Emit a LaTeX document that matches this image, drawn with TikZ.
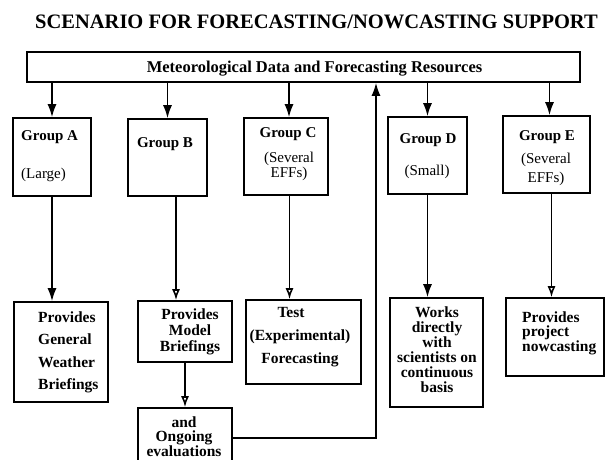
\documentclass[tikz,border=0pt]{standalone}
\usepackage{fontspec}
\setmainfont{Liberation Serif}
\usepackage{tikz}
\usetikzlibrary{arrows.meta}

\begin{document}
\begin{tikzpicture}[
  x=1pt, y=-1pt,
  box/.style={draw,line width=1.6pt,inner sep=0pt},
  lbl/.style={inner sep=0pt,font=\fontsize{15}{15}\selectfont\bfseries},
  sub/.style={inner sep=0pt,align=center,font=\fontsize{15}{15}\selectfont},
  txt/.style={inner sep=0pt,font=\fontsize{15.5}{16}\selectfont\bfseries},
  arr/.style={-{Latex[length=13pt,width=9pt]},line width=1.6pt},
  oarr/.style={-{Latex[open,length=11pt,width=8pt]},line width=1.6pt}
]
  \useasboundingbox (0,0) rectangle (605,459);

  \node[inner sep=0pt,anchor=base,font=\fontsize{20.5}{22}\selectfont\bfseries] (title) at (316.5,28.5)
    {SCENARIO FOR FORECASTING/NOWCASTING SUPPORT};

  \node[box,minimum width=553pt,minimum height=30pt] (res) at (303.5,67) {};
  \node[inner sep=0pt,anchor=base,font=\fontsize{16.5}{18}\selectfont\bfseries] (tRes) at (314.5,72)
    {Meteorological Data and Forecasting Resources};

  % groups
  \node[box,minimum width=78pt,minimum height=78pt] (gA) at (52,157) {};
  \node[box,minimum width=79pt,minimum height=77pt] (gB) at (167.5,157.5) {};
  \node[box,minimum width=84pt,minimum height=77pt] (gC) at (286,156.5) {};
  \node[box,minimum width=79pt,minimum height=77pt] (gD) at (427.5,155.5) {};
  \node[box,minimum width=87pt,minimum height=77pt] (gE) at (546.5,154.5) {};

  \node[lbl,anchor=base west] (tA) at (21,140) {Group A};
  \node[sub,anchor=base west] (tAs) at (21,178) {(Large)};
  \node[lbl,anchor=base] (tB) at (165,147) {Group B};
  \node[lbl,anchor=base] (tC) at (288,137) {Group C};
  \node[sub,anchor=north,font=\fontsize{15}{15}\selectfont] (tCs) at (289,151.5) {(Several\\EFFs)};
  \node[lbl,anchor=base] (tD) at (428,143) {Group D};
  \node[sub,anchor=base] (tDs) at (427,175) {(Small)};
  \node[lbl,anchor=base] (tE) at (547,140) {Group E};
  \node[sub,anchor=north,font=\fontsize{15}{19}\selectfont] (tEs) at (546,152.5) {(Several\\EFFs)};

  % tasks
  \node[box,minimum width=94pt,minimum height=100pt] (pA) at (61,352) {};
  \node[box,minimum width=94pt,minimum height=61pt] (pB) at (185,331.5) {};
  \node[box,minimum width=115pt,minimum height=84pt] (pC) at (303.5,342) {};
  \node[box,minimum width=93pt,minimum height=109pt] (pD) at (436.5,352.5) {};
  \node[box,minimum width=98pt,minimum height=78pt] (pE) at (555,337) {};
  \node[box,minimum width=94pt,minimum height=60pt] (ev) at (185,438) {};

  \node[txt,anchor=north west,align=left,font=\fontsize{15.5}{22.3}\selectfont\bfseries] (xA) at (38,311.5)
    {Provides\\General\\Weather\\Briefings};
  \node[txt,anchor=north,align=center,font=\fontsize{15.5}{16}\selectfont\bfseries] (xB) at (190,308.5)
    {Provides\\Model\\Briefings};
  \node[txt,anchor=north,align=center,font=\fontsize{15.5}{23}\selectfont\bfseries] (xC) at (300,307.5)
    {Test\hspace*{18pt}\\(Experimental)\\Forecasting};
  \node[txt,anchor=north,align=center,font=\fontsize{15.5}{15}\selectfont\bfseries] (xD) at (437,306.5)
    {Works\\directly\\with\\scientists on\\continuous\\basis};
  \node[txt,anchor=north west,align=left,font=\fontsize{15.5}{14.5}\selectfont\bfseries] (xE) at (522,311.5)
    {Provides\\project\\nowcasting};
  \node[txt,anchor=north,align=center,font=\fontsize{15.5}{14}\selectfont\bfseries] (xEv) at (184,416.5)
    {and\\Ongoing\\evaluations};

  % connectors
  \draw[arr] (res.south -| gA.north) -- (gA.north);
  \draw[arr] (res.south -| gB.north) -- (gB.north);
  \draw[arr] ([xshift=3pt]gC.north |- res.south) -- ([xshift=3pt]gC.north);
  \draw[arr] (res.south -| gD.north) -- (gD.north);
  \draw[arr] ([xshift=3pt]gE.north |- res.south) -- ([xshift=3pt]gE.north);

  \draw[arr] (gA.south) -- (gA.south |- pA.north);
  \draw[oarr] ([xshift=8.5pt]gB.south) -- ([xshift=8.5pt]gB.south |- pB.north);
  \draw[oarr] ([xshift=3.5pt]gC.south) -- ([xshift=3.5pt]gC.south |- pC.north);
  \draw[arr] (gD.south) -- (gD.south |- pD.north);
  \draw[oarr] ([xshift=5pt]gE.south) -- ([xshift=5pt]gE.south |- pE.north);
  \draw[oarr] (pB.south) -- (ev.north);
  \draw[arr] (ev.east) -| ([xshift=72.5pt]res.south);
\end{tikzpicture}
\end{document}
